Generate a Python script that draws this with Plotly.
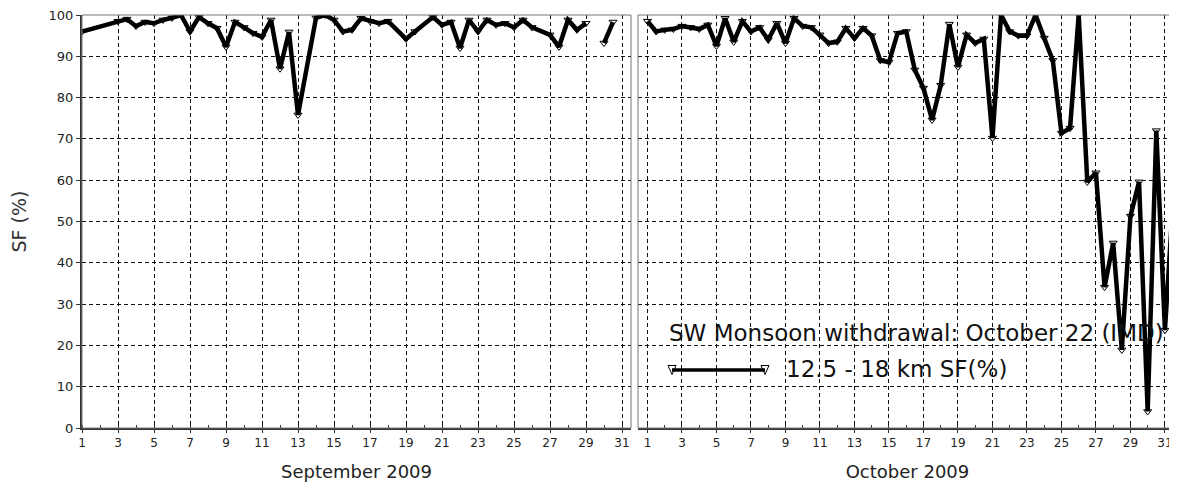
import plotly.graph_objects as go

# ---------------- data ----------------
sep_days = [1.0, 3.0, 3.5, 4.0, 4.5, 5.0, 5.5, 6.0, 6.5, 7.0, 7.5, 8.0, 8.5, 9.0, 9.5,
            10.0, 10.5, 11.0, 11.5, 12.0, 12.5, 13.0, 14.0, 14.5, 15.0, 15.5, 16.0,
            16.5, 17.0, 17.5, 18.0, 19.0, 19.5, 20.5, 21.0, 21.5, 22.0, 22.5, 23.0,
            23.5, 24.0, 24.5, 25.0, 25.5, 26.0, 27.0, 27.5, 28.0, 28.5, 29.0, 29.5,
            30.0, 30.5]
sep_sf = [96.0, 98.5, 99.0, 97.3, 98.3, 98.0, 98.8, 99.3, 100.0, 96.0, 99.5, 98.0, 96.8,
          92.3, 98.3, 97.0, 95.6, 94.7, 98.8, 87.0, 95.9, 75.8, 99.3, 100.0, 98.8, 96.0,
          96.4, 99.2, 98.5, 98.0, 98.5, 94.2, 96.0, 99.5, 97.6, 98.3, 92.0, 98.8, 96.0,
          98.8, 97.6, 98.0, 97.0, 98.8, 97.0, 95.2, 92.3, 98.8, 96.4, 98.0, None,
          93.2, 98.3]

oct_days = [1.0, 1.5, 2.0, 2.5, 3.0, 3.5, 4.0, 4.5, 5.0, 5.5, 6.0, 6.5, 7.0, 7.5, 8.0,
            8.5, 9.0, 9.5, 10.0, 10.5, 11.0, 11.5, 12.0, 12.5, 13.0, 13.5, 14.0, 14.5,
            15.0, 15.5, 16.0, 16.5, 17.0, 17.5, 18.0, 18.5, 19.0, 19.5, 20.0, 20.5,
            21.0, 21.5, 22.0, 22.5, 23.0, 23.5, 24.0, 24.5, 25.0, 25.5, 26.0, 26.5,
            27.0, 27.5, 28.0, 28.5, 29.0, 29.5, 30.0, 30.5, 31.0, 31.5]
oct_sf = [98.5, 96.0, 96.4, 96.6, 97.3, 97.0, 96.6, 97.6, 92.5, 99.2, 93.5, 98.5, 96.0,
          97.0, 94.0, 98.0, 93.2, 99.2, 97.3, 97.0, 95.2, 93.2, 93.5, 96.8, 94.4, 96.8,
          95.0, 89.0, 88.6, 95.6, 96.0, 86.7, 82.3, 74.6, 83.0, 97.8, 87.4, 95.2, 93.2,
          94.2, 70.2, 100.0, 96.0, 95.0, 95.0, 100.0, 94.4, 89.0, 71.4, 72.6, 100.0,
          59.6, 61.8, 34.1, 44.8, 18.9, 51.3, 59.6, 4.0, 72.0, 23.7, 57.0]

x_ticks = list(range(1, 32, 2))
y_ticks = list(range(0, 101, 10))
series_name = "12.5 - 18 km SF(%)"
note_text = "SW Monsoon withdrawal: October 22 (IMD)"

FONT = "DejaVu Sans, Liberation Sans, Arial, sans-serif"
line_style = dict(color="black", width=4.5)
marker_style = dict(symbol="triangle-down", size=7, color="white",
                    line=dict(color="black", width=1))

fig = go.Figure()
for xs, ys, xa, ya in ((sep_days, sep_sf, "x", "y"), (oct_days, oct_sf, "x2", "y2")):
    # markers underneath, thick line on top (markers only peek out at the extremes)
    fig.add_trace(go.Scatter(x=xs, y=ys, mode="markers", marker=marker_style,
                             xaxis=xa, yaxis=ya, name=series_name, showlegend=False,
                             hoverinfo="skip"))
    fig.add_trace(go.Scatter(x=xs, y=ys, mode="lines", line=line_style,
                             xaxis=xa, yaxis=ya, name=series_name, showlegend=False,
                             connectgaps=False))

# The page body adds an 8px offset; lay out in figure pixels = reference - 8
OFF = 8
W, H = 1177, 487
ml = 82 - OFF
mt = 15 - OFF
plot_right = 1177 - OFF
plot_bottom = 428 - OFF
mr = W - plot_right
mb = H - plot_bottom
pw = plot_right - ml
ph = plot_bottom - mt


def px(rx):
    return (rx - OFF - ml) / pw


def py(ry):
    return (plot_bottom - (ry - OFF)) / ph


d1 = [0.0, px(631)]
d2 = [px(638), 1.0]

grid = dict(showgrid=True, gridcolor="#111", gridwidth=1, griddash="4px,3px")
xcommon = dict(tickmode="array", tickvals=x_ticks, ticks="outside", ticklen=3,
               tickcolor="#333", tickfont=dict(size=12, color="#222"),
               ticklabeloverflow="allow", automargin=False,
               showline=True, linecolor="#333", linewidth=2, zeroline=False,
               minor=dict(tick0=0, dtick=1, ticks="inside", ticklen=3, tickcolor="#333",
                          showgrid=False),
               title_font=dict(size=18, color="#222"), title_standoff=16, **grid)

fig.update_layout(
    width=W, height=H,
    margin=dict(l=ml, r=mr, t=mt, b=mb),
    paper_bgcolor="white", plot_bgcolor="white",
    font=dict(family=FONT, color="#222"),
    xaxis=dict(domain=d1, range=[1, 31.5], anchor="y",
               title_text="September 2009", **xcommon),
    xaxis2=dict(domain=d2, range=[0.45, 31.7], anchor="y2",
                title_text="October 2009", **xcommon),
    yaxis=dict(domain=[0, 1], range=[0, 100], anchor="x", tickmode="array",
               tickvals=y_ticks, ticks="outside", ticklen=4, tickcolor="#333",
               tickfont=dict(size=13, color="#222"), ticklabeloverflow="allow",
               automargin=False, showline=True, linecolor="#333",
               linewidth=2, zeroline=False, title_text="SF (%)",
               title_font=dict(size=19, color="#333"), title_standoff=23, **grid),
    yaxis2=dict(domain=[0, 1], range=[0, 100], anchor="x2", matches="y",
                tickmode="array", tickvals=y_ticks, showticklabels=False,
                automargin=False, ticks="", showline=False, zeroline=False, **grid),
)

shapes = []
# panel frames (thin grey)
for xr, yr in (("x domain", "y domain"), ("x2 domain", "y2 domain")):
    shapes.append(dict(type="rect", xref=xr, yref=yr, x0=0, x1=1, y0=0, y1=1,
                       line=dict(color="#777", width=1), layer="above"))

# legend sample line with its markers
lx0, lx1 = px(672), px(765)
ly = py(370)
tw, th = 4 / pw, 4.5 / ph
for lx in (lx0, lx1):
    shapes.append(dict(type="path", xref="paper", yref="paper",
                       path=f"M {lx - tw} {ly + th} L {lx + tw} {ly + th} L {lx} {ly - th} Z",
                       fillcolor="white", line=dict(color="black", width=1)))
shapes.append(dict(type="line", xref="paper", yref="paper", x0=lx0, x1=lx1, y0=ly, y1=ly,
                   line=dict(color="black", width=3.5)))
fig.update_layout(shapes=shapes)

fig.add_annotation(xref="paper", yref="paper", x=px(667), y=py(333),
                   xanchor="left", yanchor="middle", text=note_text, showarrow=False,
                   font=dict(size=23, color="#111", family=FONT))
fig.add_annotation(xref="paper", yref="paper", x=px(784), y=py(369),
                   xanchor="left", yanchor="middle", text=series_name, showarrow=False,
                   font=dict(size=23, color="#111", family=FONT))

fig.write_html("out.html")
